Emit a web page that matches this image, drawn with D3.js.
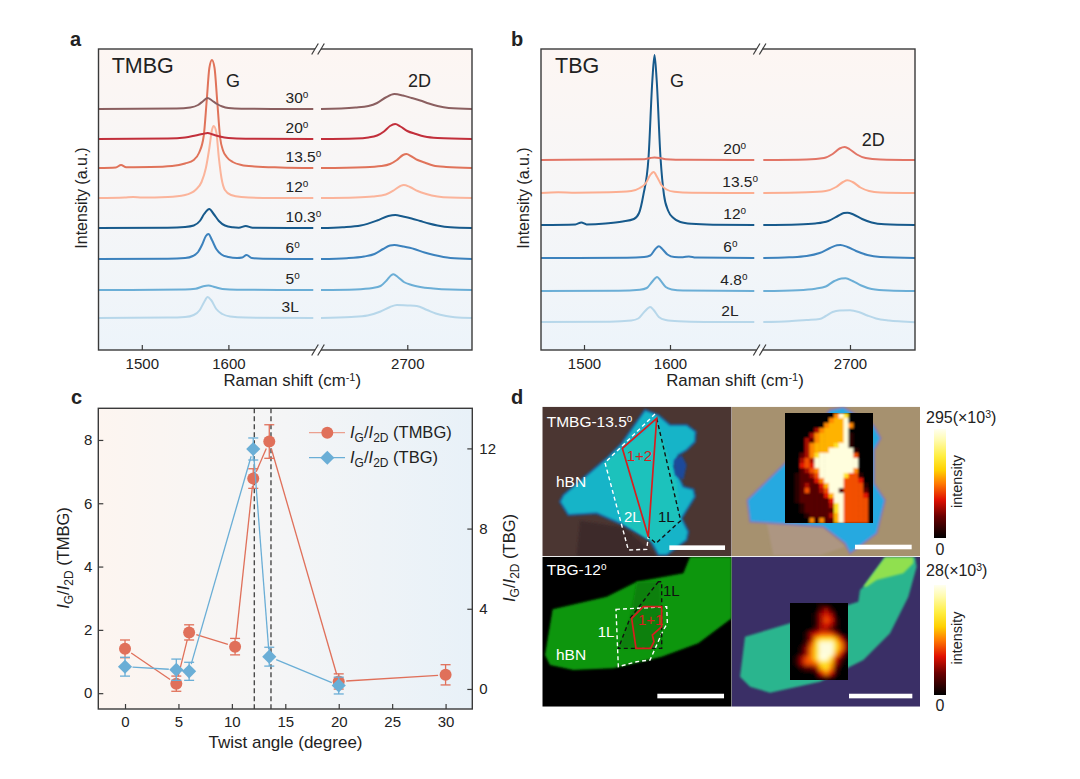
<!DOCTYPE html>
<html>
<head>
<meta charset="utf-8">
<script src="https://cdn.jsdelivr.net/npm/d3@7"></script>
<style>
  body { margin: 0; background: #fff; }
  text { font-family: "Liberation Sans", Arial, sans-serif; fill: #222; }
</style>
</head>
<body>
<svg id="chart" width="1080" height="779"></svg>
<script>
// spectra, pairs of [Raman shift, intensity above the baseline]
const tmbg30G = [[1450,0],[1540,.5],[1556,1.5],[1565,4],[1571,8],[1576,11],[1581,8.5],[1587,5],[1593,2.5],[1600,1],[1615,.2],[1698,0]];
const tmbg30D = [[2600,0],[2640,1.5],[2655,3],[2665,6],[2675,11.5],[2685,15],[2695,13.5],[2705,11],[2715,8.5],[2725,5.5],[2735,3],[2748,1],[2775,0]];
const tmbg20G = [[1450,0],[1530,.5],[1550,1.5],[1562,3.5],[1570,5],[1576,6],[1582,4.5],[1590,2.5],[1600,1],[1620,.3],[1698,0]];
const tmbg20D = [[2600,0],[2640,.5],[2655,1.5],[2665,3.5],[2673,7.5],[2680,13],[2686,15],[2692,12.5],[2700,8],[2710,5],[2720,2.5],[2735,1],[2775,0]];
const tmbg135G = [[1450,0],[1470,.5],[1476,3],[1482,.8],[1510,1],[1535,2],[1550,4.5],[1560,8],[1566,15],[1571.5,32],[1575,68],[1578,100],[1581,108],[1584,100],[1587,68],[1590.5,30],[1594,17],[1598,11],[1605,6],[1615,3],[1630,1.5],[1660,.5],[1698,0]];
const tmbg135D = [[2600,0],[2650,.8],[2670,2],[2680,4],[2688,8],[2695,13],[2699,14],[2705,11.5],[2712,8],[2720,5.5],[2730,2.5],[2745,1],[2775,0]];
const tmbg12G = [[1450,0],[1480,.5],[1490,1],[1500,.5],[1530,1],[1550,3],[1562,8],[1569,16],[1574,30],[1578,50],[1581,68],[1583,72],[1586,66],[1589,40],[1592,20],[1596,8],[1603,3],[1615,1],[1650,0],[1698,0]];
const tmbg12D = [[2600,0],[2640,.5],[2660,1.5],[2675,3.5],[2685,8],[2692,12],[2696,13],[2703,11],[2712,7],[2722,4],[2735,1.5],[2750,.4],[2775,0]];
const tmbg103G = [[1450,0],[1530,.3],[1550,1],[1560,2.5],[1567,7],[1572,14],[1578,19],[1583,14],[1589,7],[1596,2.5],[1605,.7],[1612,.3],[1620,2],[1628,.3],[1698,0]];
const tmbg103D = [[2600,0],[2625,.8],[2646,2.5],[2665,7.5],[2678,12],[2686,13],[2695,11.5],[2705,9.5],[2715,7],[2725,4.5],[2735,2.5],[2750,.7],[2775,0]];
const tmbg6G = [[1450,0],[1530,.3],[1550,1],[1559,3],[1565,7],[1570,15],[1574,23],[1577,25],[1581,19],[1586,10],[1592,4.5],[1600,2],[1610,1],[1616,1.5],[1621,4],[1627,1],[1640,.3],[1698,0]];
const tmbg6D = [[2600,0],[2630,.8],[2650,2.5],[2662,5],[2672,10],[2680,13.5],[2685,14],[2695,12.5],[2708,10],[2720,6.5],[2731,4],[2750,1],[2775,0]];
const tmbg5G = [[1450,0],[1550,.4],[1562,1.2],[1571,3.8],[1577,4.5],[1584,3],[1593,1],[1610,.2],[1698,0]];
const tmbg5D = [[2600,0],[2640,.6],[2660,2],[2669,4],[2676,9.5],[2681,14.5],[2684,15.7],[2689,13],[2696,8],[2705,5],[2715,3],[2730,1.5],[2750,.4],[2775,0]];
const tmbg3LG = [[1450,0],[1530,.4],[1550,1],[1560,3],[1567,8],[1572,16],[1576,21],[1580,18],[1586,9],[1593,4],[1602,1.5],[1620,.4],[1698,0]];
const tmbg3LD = [[2600,0],[2635,1],[2654,2.5],[2669,6.5],[2680,11],[2688,13],[2700,12.5],[2711,12],[2723,8],[2733,4.5],[2745,2],[2755,.7],[2775,0]];

const tbg20G = [[1450,0],[1520,.4],[1570,.8],[1577,2],[1582,2.5],[1588,2],[1595,.8],[1620,.2],[1698,0]];
const tbg20D = [[2600,0],[2650,.5],[2670,2],[2680,6],[2688,11.5],[2694,13],[2700,10.5],[2708,5.5],[2718,2],[2735,.5],[2775,0]];
const tbg135G = [[1450,0],[1470,.8],[1490,.3],[1530,.7],[1555,2],[1565,5],[1572,10],[1577,18],[1581,21],[1585,16],[1590,8],[1596,3.5],[1605,1.2],[1625,.3],[1698,0]];
const tbg135D = [[2600,0],[2650,.7],[2672,2],[2684,6],[2692,11],[2697,12.7],[2703,11],[2712,5.5],[2722,2],[2735,.6],[2775,0]];
const tbg12G = [[1450,0],[1490,.6],[1497,2.5],[1503,.6],[1525,1.5],[1545,3.5],[1558,6],[1564,12],[1569,30],[1575,67],[1579.5,145],[1582,170],[1584.5,145],[1589,67],[1593,30],[1598,14],[1604,7],[1612,3],[1625,1.2],[1650,.3],[1698,0]];
const tbg12D = [[2600,0],[2640,.5],[2660,1.5],[2675,4],[2687,9.5],[2693,12],[2697,12.3],[2704,10.5],[2714,6],[2725,2.5],[2740,.7],[2775,0]];
const tbg6G = [[1450,0],[1550,.3],[1570,1],[1577,2.5],[1583,9],[1587,11.7],[1591,9],[1597,3.5],[1605,1],[1615,.8],[1622,1.6],[1630,.5],[1698,0]];
const tbg6D = [[2600,0],[2630,.7],[2650,2],[2665,5],[2677,10],[2685,12.7],[2689,13],[2697,11],[2707,7],[2720,3],[2735,1],[2775,0]];
const tbg48G = [[1450,0],[1540,.3],[1565,1.2],[1573,3],[1579,9],[1585,14],[1589,10.5],[1595,4],[1602,1.5],[1615,.4],[1698,0]];
const tbg48D = [[2600,0],[2640,.8],[2660,2.3],[2672,4.5],[2682,10],[2690,12.5],[2695,12.7],[2703,10],[2713,5.5],[2725,2],[2745,.5],[2775,0]];
const tbg2LG = [[1450,0],[1530,.3],[1555,1.5],[1563,3.5],[1570,10],[1577,15],[1581,12],[1587,5],[1595,2],[1610,.7],[1640,.1],[1698,0]];
const tbg2LD = [[2600,0],[2630,.8],[2650,2],[2665,3],[2672,6],[2680,10],[2688,11.5],[2700,11.7],[2710,10],[2720,6.5],[2730,3.5],[2745,1.5],[2760,.5],[2775,-.3]];

const tmbgLabels = ["3L", "5", "6", "10.3", "12", "13.5", "20", "30"];
const tmbgOffsets = [32, 60, 91, 122, 152, 182, 211, 241];
const tmbgColors = ["#b7d7ea", "#6baed6", "#3c82bd", "#175a8c", "#fbb49b", "#e0735a", "#c22f3b", "#8b5f60"];
const tmbgG = [tmbg3LG, tmbg5G, tmbg6G, tmbg103G, tmbg12G, tmbg135G, tmbg20G, tmbg30G];
const tmbgD = [tmbg3LD, tmbg5D, tmbg6D, tmbg103D, tmbg12D, tmbg135D, tmbg20D, tmbg30D];

const tbgLabels = ["2L", "4.8", "6", "12", "13.5", "20"];
const tbgOffsets = [28, 59, 92, 125, 157, 190];
const tbgColors = ["#b7d7ea", "#6baed6", "#3c82bd", "#175a8c", "#fcae91", "#e27566"];
const tbgG = [tbg2LG, tbg48G, tbg6G, tbg12G, tbg135G, tbg20G];
const tbgD = [tbg2LD, tbg48D, tbg6D, tbg12D, tbg135D, tbg20D];

// ratio vs twist angle
const angleTMBG = [0, 4.8, 6, 10.3, 12, 13.5, 20, 30];
const ratioTMBG = [1.4, 0.3, 1.92, 1.47, 6.78, 7.95, 0.37, 0.58];
const errTMBG = [0.28, 0.24, 0.24, 0.26, 0.31, 0.53, 0.24, 0.32];
const angleTBG = [0, 4.8, 6, 12, 13.5, 20];
const ratioTBG = [1.11, 0.96, 0.88, 11.97, 1.61, 0.17];
const errTBG = [0.47, 0.53, 0.45, 0.55, 0.47, 0.42];
const dashAngles = [12.1, 13.66];

// heat maps, one digit per cell
const heatTMBG = [
  "000000000069800000","000000000677900000","000000006777960000","000000367777900000",
  "000003677777910000","000032677777910000","000036777789910000","000036777999991000",
  "000236899999995000","000353999999999000","000454999999999000","000235699999996000",
  "001223599999855100","001222469999555400","001232247999555510","001252235992555520",
  "001222224799555540","001222222499555550","000122222389555550","000122222289555550",
  "000012222379555550","000006162279555550"];
const heatTBG = [
  "000000100000","000000231000","000001343000","000001354100","000001343100","000002332000",
  "000134555300","000137888741","000258999863","001368999863","001368999741","013568998420",
  "013556887310","001223786200","000001464100","000000121000"];
const heatLevels = [0, .08, .16, .28, .36, .44, .52, .58, .7, .97];

// micrograph outlines, in the pixels of each tile's own picture
const flakeTL = [[345,30],[385,45],[420,75],[470,75],[497,95],[495,125],[470,150],[445,165],[432,200],[460,260],[490,268],[495,290],[455,355],[475,395],[470,420],[410,465],[385,465],[360,420],[280,375],[200,340],[115,345],[90,305],[100,285],[230,175],[275,130]];
const innerTL = [[225,190],[275,150],[350,90],[380,60],[440,250],[450,360],[375,430],[350,415],[280,370]];
const notchTL = [[432,180],[455,165],[470,195],[460,240],[435,225]];
const shadeTL = [[150,362],[280,382],[380,468],[140,468]];
const whiteTL = [[375,42],[225,188],[295,450],[350,448],[355,410]];
const blackTL = [[380,55],[452,362],[378,430],[355,410]];
const redTL = [[380,55],[277,145],[355,410]];
const barTL = [418, 585, 443];

const flakeBL = [[480,470],[605,470],[605,655],[505,730],[395,770],[250,805],[130,810],[60,795],[45,765],[68,628],[230,590],[320,545],[460,520]];
const darkBL = [[320,545],[390,545],[395,745],[265,745],[300,655]];
const whiteBL = [[258,628],[410,620],[412,670],[400,690],[360,780],[320,785],[265,800]];
const blackBL = [[385,545],[300,655],[265,745],[395,745],[395,545]];
const redBL = [[340,620],[395,620],[395,680],[367,705],[372,725],[362,745],[318,745],[305,655]];
const barBL = [382, 582, 888];

const flakeTR = [[300,30],[340,22],[430,75],[452,115],[432,150],[432,250],[465,300],[440,400],[360,460],[345,430],[280,380],[60,365],[52,300],[165,190]];
const shadeTR = [[110,368],[280,382],[345,440],[270,465],[130,465]];
const barTR = [375, 545, 441];
const flakeBR = [[400,560],[465,472],[555,472],[560,500],[535,590],[480,700],[400,780],[270,845],[120,878],[60,860],[30,830],[45,710],[180,670],[385,605],[390,570]];
const limeBR = [[400,560],[465,472],[550,472],[550,490],[520,520],[440,540],[410,560]];
const barBR = [357, 547, 888];

const svg = d3.select("#chart");
const defs = svg.append("defs");

function gradient(id, vertical, stops) {
  const g = defs.append("linearGradient").attr("id", id)
    .attr("x1", 0).attr("y1", 0)
    .attr("x2", vertical ? 0 : 1).attr("y2", vertical ? 1 : 0);
  stops.forEach(s => g.append("stop").attr("offset", s[0]).attr("stop-color", s[1]));
}
gradient("bgV", true, [[0, "#fdf6f3"], [0.5, "#f6f6f7"], [1, "#edf4fa"]]);
gradient("bgH", false, [[0, "#fdf5f0"], [0.5, "#f4f5f6"], [1, "#e8f1f8"]]);

const blur = (id, dev) => defs.append("filter").attr("id", id)
  .attr("x", "-10%").attr("y", "-10%").attr("width", "120%").attr("height", "120%")
  .append("feGaussianBlur").attr("stdDeviation", dev);
blur("soft", 0.8);
blur("heatA", 1.1);
blur("heatB", 2.2);

// small helper for text with sub/superscripts
function rich(sel, parts) {
  let shift = 0;
  parts.forEach(p => {
    const t = sel.append("tspan").text(p.t);
    const want = p.dy || 0;
    if (want !== shift) t.attr("dy", want - shift);
    shift = want;
    if (p.size) t.attr("font-size", p.size);
    if (p.italic) t.attr("font-style", "italic");
  });
}
const deg = s => s.includes("L") ? [{ t: s }] : [{ t: s }, { t: "o", dy: -5, size: 10 }];

function label(x, y, txt, size, extra) {
  const t = svg.append("text").attr("x", x).attr("y", y).attr("font-size", size).text(txt);
  if (extra) t.attr("font-weight", extra);
  return t;
}

// panels a and b share everything but the scales and spectra
function spectra(opt) {
  const xL = d3.scaleLinear().domain([1450, 1700]).range(opt.rangeL);
  const xR = d3.scaleLinear().domain([2600, 2775]).range(opt.rangeR);
  const y = d3.scaleLinear().domain([0, 301]).range([350, 49]);
  const left = opt.rangeL[0], right = opt.rangeR[1];

  svg.append("rect").attr("x", left).attr("y", y(301)).attr("width", right - left)
    .attr("height", y(0) - y(301)).attr("fill", "url(#bgV)");

  const lineG = d3.line().x(d => xL(d.x)).y(d => y(d.y)).curve(d3.curveMonotoneX);
  const lineD = d3.line().x(d => xR(d.x)).y(d => y(d.y)).curve(d3.curveMonotoneX);

  opt.labels.forEach((name, i) => {
    const g = svg.append("g").attr("fill", "none").attr("stroke", opt.colors[i])
      .attr("stroke-width", 2).attr("stroke-linejoin", "round");
    g.append("path").attr("d", lineG(opt.g[i].map(p => ({ x: p[0], y: p[1] + opt.offsets[i] }))));
    g.append("path").attr("d", lineD(opt.d[i].map(p => ({ x: p[0], y: p[1] + opt.offsets[i] }))));
    const t = svg.append("text").attr("font-size", 15.5)
      .attr("x", xL(opt.labelShift) - opt.labelNudge[i]).attr("y", y(opt.offsets[i]) - 6);
    rich(t, deg(name));
  });

  svg.append("rect").attr("x", left).attr("y", y(301)).attr("width", right - left)
    .attr("height", y(0) - y(301)).attr("fill", "none").attr("stroke", "#3a3a3a").attr("stroke-width", 1.4);

  const gL = svg.append("g").attr("transform", `translate(0,${y(0)})`)
    .call(d3.axisBottom(xL).tickValues([1500, 1600]).tickFormat(d3.format("d")).tickSizeInner(-5).tickSizeOuter(0).tickPadding(8));
  const gR = svg.append("g").attr("transform", `translate(0,${y(0)})`)
    .call(d3.axisBottom(xR).tickValues([2700]).tickFormat(d3.format("d")).tickSizeInner(-5).tickSizeOuter(0).tickPadding(8));
  [gL, gR].forEach(g => {
    g.select(".domain").remove();
    g.selectAll("line").attr("stroke", "#3a3a3a").attr("stroke-width", 1.2);
    g.selectAll("text").attr("font-size", 15).attr("font-family", null).attr("fill", "#222");
  });

  // axis break marks
  const bx = (opt.rangeL[1] + opt.rangeR[0]) / 2;
  [y(301), y(0)].forEach(by => {
    svg.append("rect").attr("x", bx - 3).attr("y", by - 2).attr("width", 6).attr("height", 4).attr("fill", "#fff");
    [-3, 3].forEach(dx => svg.append("line")
      .attr("x1", bx + dx - 3.3).attr("y1", by + 5.5).attr("x2", bx + dx + 3.3).attr("y2", by - 5.5)
      .attr("stroke", "#3a3a3a").attr("stroke-width", 1.2));
  });

  const xt = svg.append("text").attr("x", (left + right) / 2 + 7).attr("y", 386).attr("font-size", 16.8).attr("text-anchor", "middle");
  rich(xt, [{ t: "Raman shift (cm" }, { t: "-1", dy: -5, size: 11 }, { t: ")" }]);
  svg.append("text").attr("transform", `translate(${left - 12},198) rotate(-90)`)
    .attr("font-size", 16).attr("text-anchor", "middle").text("Intensity (a.u.)");
}

spectra({
  rangeL: [98.5, 315], rangeR: [321, 472],
  labels: tmbgLabels, offsets: tmbgOffsets, colors: tmbgColors, g: tmbgG, d: tmbgD,
  labelShift: 1666, labelNudge: [4, 0, 0, 0, 0, 0, 0, 0]
});
spectra({
  rangeL: [541, 756], rangeR: [763.3, 915],
  labels: tbgLabels, offsets: tbgOffsets, colors: tbgColors, g: tbgG, d: tbgD,
  labelShift: 1662, labelNudge: [2, 3, 0, 0, 1, 0]
});

label(111.7, 72.7, "TMBG", 21.5);
label(226, 87, "G", 18);
label(408, 87, "2D", 18);
label(555, 73, "TBG", 21.5);
label(670, 87, "G", 18);
label(861.7, 146, "2D", 18);
label(70, 46, "a", 20, "bold");
label(511, 46, "b", 20, "bold");
label(71, 404, "c", 20, "bold");
label(511, 404, "d", 20, "bold");

// panel c
const xAngle = d3.scaleLinear().domain([-2.5, 32.5]).range([98.3, 472.3]);
const yTMBG = d3.scaleLinear().domain([-0.5, 9]).range([709, 408.3]);
const yTBG = d3.scaleLinear().domain([-1, 14]).range([709, 408.3]);
const red = "#e0705a", blue = "#6aaed6";

svg.append("rect").attr("x", 98.3).attr("y", 408.3).attr("width", 374).attr("height", 300.7).attr("fill", "url(#bgH)");

dashAngles.forEach(a => svg.append("line")
  .attr("x1", xAngle(a)).attr("x2", xAngle(a)).attr("y1", 408.3).attr("y2", 709)
  .attr("stroke", "#4a4a4a").attr("stroke-width", 1.4).attr("stroke-dasharray", "5,3"));

// Origin style lines stop short of the symbols
function series(xs, ys, errs, yScale, color, symbol) {
  const pts = xs.map((x, i) => [xAngle(x), yScale(ys[i])]);
  d3.pairs(pts).forEach(([a, b]) => {
    const dx = b[0] - a[0], dy = b[1] - a[1], len = Math.hypot(dx, dy), gap = 7.5 / len;
    svg.append("line").attr("stroke", color).attr("stroke-width", 1.3)
      .attr("x1", a[0] + dx * gap).attr("y1", a[1] + dy * gap)
      .attr("x2", b[0] - dx * gap).attr("y2", b[1] - dy * gap);
  });
  const g = svg.append("g").attr("stroke", color).attr("stroke-width", 1.3);
  xs.forEach((x, i) => {
    const cx = xAngle(x), hi = yScale(ys[i] + errs[i]), lo = yScale(ys[i] - errs[i]);
    g.append("line").attr("x1", cx).attr("x2", cx).attr("y1", hi).attr("y2", lo);
    [hi, lo].forEach(v => g.append("line").attr("x1", cx - 5).attr("x2", cx + 5).attr("y1", v).attr("y2", v));
  });
  pts.forEach(p => symbol(p[0], p[1]));
}
const circle = (x, y) => svg.append("circle").attr("cx", x).attr("cy", y).attr("r", 6).attr("fill", red);
const diamondPath = d3.symbol(d3.symbolSquare, 100)();
const diamond = (x, y) => svg.append("path").attr("d", diamondPath)
  .attr("transform", `translate(${x},${y}) rotate(45)`).attr("fill", blue);

series(angleTMBG, ratioTMBG, errTMBG, yTMBG, red, circle);
series(angleTBG, ratioTBG, errTBG, yTBG, blue, diamond);

svg.append("rect").attr("x", 98.3).attr("y", 408.3).attr("width", 374).attr("height", 300.7)
  .attr("fill", "none").attr("stroke", "#3a3a3a").attr("stroke-width", 1.4);

const axC = [
  svg.append("g").attr("transform", "translate(0,709)")
    .call(d3.axisBottom(xAngle).tickValues(d3.range(0, 31, 5)).tickSizeInner(-5).tickSizeOuter(0).tickPadding(7)),
  svg.append("g").attr("transform", "translate(98.3,0)")
    .call(d3.axisLeft(yTMBG).tickValues([0, 2, 4, 6, 8]).tickSizeInner(-5).tickSizeOuter(0).tickPadding(6)),
  svg.append("g").attr("transform", "translate(472.3,0)")
    .call(d3.axisRight(yTBG).tickValues([0, 4, 8, 12]).tickSizeInner(-5).tickSizeOuter(0).tickPadding(7))
];
axC.forEach(g => {
  g.select(".domain").remove();
  g.selectAll("line").attr("stroke", "#3a3a3a").attr("stroke-width", 1.2);
  g.selectAll("text").attr("font-size", 15).attr("font-family", null).attr("fill", "#222");
});

svg.append("text").attr("x", 285.5).attr("y", 747.7).attr("font-size", 17).attr("text-anchor", "middle").text("Twist angle (degree)");

const ratioParts = tail => [
  { t: "I", italic: true }, { t: "G", dy: 4, size: 12 }, { t: "/" },
  { t: "I", italic: true }, { t: "2D", dy: 4, size: 12 }, { t: " " + tail }
];
rich(svg.append("text").attr("font-size", 16.5).attr("text-anchor", "middle")
  .attr("transform", "translate(69,558) rotate(-90)"), ratioParts("(TMBG)"));
rich(svg.append("text").attr("font-size", 16.5).attr("text-anchor", "middle")
  .attr("transform", "translate(515,558) rotate(-90)"), ratioParts("(TBG)"));

// legend
[[red, circle, "(TMBG)", 432.7, "#eba08f"], [blue, diamond, "(TBG)", 457.7, blue]].forEach(([c, sym, tail, ly, lc]) => {
  svg.append("line").attr("x1", 309).attr("x2", 345).attr("y1", ly).attr("y2", ly).attr("stroke", lc).attr("stroke-width", 1.3);
  sym(327.3, ly);
  rich(svg.append("text").attr("x", 350).attr("y", ly + 5).attr("font-size", 16.5), ratioParts(tail));
});

// panel d
function tile(domX, domY, rangeX, rangeY, id, bg) {
  const x = d3.scaleLinear().domain(domX).range(rangeX);
  const y = d3.scaleLinear().domain(domY).range(rangeY);
  defs.append("clipPath").attr("id", id).append("rect")
    .attr("x", rangeX[0]).attr("y", rangeY[0])
    .attr("width", rangeX[1] - rangeX[0]).attr("height", rangeY[1] - rangeY[0]);
  const g = svg.append("g").attr("clip-path", `url(#${id})`);
  g.append("rect").attr("x", rangeX[0]).attr("y", rangeY[0])
    .attr("width", rangeX[1] - rangeX[0]).attr("height", rangeY[1] - rangeY[0]).attr("fill", bg);
  const path = d3.line().x(d => x(d[0])).y(d => y(d[1]));
  const poly = (pts, fill, stroke, w, dash, closed = true) => g.append("path")
    .attr("d", path(pts) + (closed ? "Z" : ""))
    .attr("fill", fill).attr("stroke", stroke || "none").attr("stroke-width", w || 0)
    .attr("stroke-dasharray", dash || null);
  const bar = b => g.append("rect").attr("x", x(b[0])).attr("width", x(b[1]) - x(b[0]))
    .attr("y", y(b[2]) - 2.3).attr("height", 4.6).attr("fill", "#fff");
  return { g, x, y, poly, bar };
}

const hot = d3.scaleLinear()
  .domain([0, .2, .35, .5, .62, .75, .9, 1])
  .range(["#000000", "#6b0000", "#e01000", "#ff7a00", "#ffd000", "#ffee40", "#fffbb0", "#fffff0"]);

function heatmap(rows, rect, blurId, clipId) {
  const x = d3.scaleBand().domain(d3.range(rows[0].length)).range([rect[0], rect[1]]);
  const y = d3.scaleBand().domain(d3.range(rows.length)).range([rect[2], rect[3]]);
  defs.append("clipPath").attr("id", clipId).append("rect")
    .attr("x", rect[0]).attr("y", rect[2]).attr("width", rect[1] - rect[0]).attr("height", rect[3] - rect[2]);
  const outer = svg.append("g").attr("clip-path", `url(#${clipId})`);
  outer.append("rect").attr("x", rect[0]).attr("y", rect[2])
    .attr("width", rect[1] - rect[0]).attr("height", rect[3] - rect[2]).attr("fill", "#000");
  outer.append("g").attr("filter", `url(#${blurId})`)
    .selectAll("rect").data(rows.flatMap((r, j) => [...r].map((v, i) => ({ i, j, v: +v }))))
    .join("rect")
    .attr("x", d => x(d.i)).attr("y", d => y(d.j))
    .attr("width", x.bandwidth() + .5).attr("height", y.bandwidth() + .5)
    .attr("fill", d => hot(heatLevels[d.v]));
}

const tl = tile([37, 605], [20, 468], [542.3, 731.7], [406.7, 556], "clipTL", "#4b3632");
tl.poly(shadeTL, "#3e2a2c").attr("filter", "url(#soft)");
tl.poly(flakeTL, "#14b4c8", "#1d5fa0", 2).attr("filter", "url(#soft)");
tl.poly(innerTL, "#1fc2bc").attr("filter", "url(#soft)");
tl.poly(notchTL, "#1a4a9a").attr("filter", "url(#soft)");
tl.poly(whiteTL, "none", "#fff", 1.4, "4,3", false);
tl.poly(blackTL, "none", "#111", 1.4, "4,3", false);
tl.poly(redTL, "none", "#d81e1e", 1.7);
tl.bar(barTL);

const bl = tile([37, 605], [470, 920], [542.3, 731.7], [556.7, 706.7], "clipBL", "#000");
bl.poly(flakeBL, "#0a960a").attr("filter", "url(#soft)");
bl.poly(darkBL, "#0a800a").attr("filter", "url(#soft)");
bl.poly(whiteBL, "none", "#fff", 1.4, "4,3");
bl.poly(blackBL, "none", "#111", 1.4, "4,3");
bl.poly(redBL, "none", "#d81e1e", 1.7);
bl.bar(barBL);

const tr = tile([5, 570], [20, 468], [731.7, 920], [406.7, 556], "clipTR", "#a6916f");
tr.poly(shadeTR, "#ad9682").attr("filter", "url(#soft)");
tr.poly(flakeTR, "#27a9e0", "#8870c0", 1.5).attr("filter", "url(#soft)");
tr.bar(barTR);

const br = tile([5, 570], [470, 920], [731.7, 920], [556.7, 706.7], "clipBR", "#3a2f66");
br.poly(flakeBR, "#2cb58e").attr("filter", "url(#soft)");
br.poly(limeBR, "#90e050").attr("filter", "url(#soft)");
br.bar(barBR);

heatmap(heatTMBG, [785, 873, 413, 523], "heatA", "clipHeatA");
heatmap(heatTBG, [790, 848, 603, 680], "heatB", "clipHeatB");

const tileText = (x, y, txt, size, color) => svg.append("text").attr("x", x).attr("y", y)
  .attr("font-size", size).style("fill", color).text(txt);
rich(svg.append("text").attr("x", 546.7).attr("y", 427).attr("font-size", 15.5).style("fill", "#fff"),
  [{ t: "TMBG-13.5" }, { t: "o", dy: -5, size: 10 }]);
rich(svg.append("text").attr("x", 546.7).attr("y", 575).attr("font-size", 15.5).style("fill", "#fff"),
  [{ t: "TBG-12" }, { t: "o", dy: -5, size: 10 }]);
tileText(556, 486.7, "hBN", 15.5, "#fff");
tileText(556, 660, "hBN", 15.5, "#fff");
tileText(626.7, 461, "1+2", 15, "#d81e1e");
tileText(638, 625, "1+1", 15, "#d81e1e");
tileText(624, 521.7, "2L", 15, "#fff");
tileText(658, 521.7, "1L", 15, "#111");
tileText(663, 595.7, "1L", 15, "#111");
tileText(597.7, 636.7, "1L", 15, "#fff");

// colour bars
defs.append("linearGradient").attr("id", "hotBar").attr("x1", 0).attr("y1", 1).attr("x2", 0).attr("y2", 0)
  .selectAll("stop").data(hot.domain()).join("stop")
  .attr("offset", d => d).attr("stop-color", d => hot(d));

function colorbar(y0, y1, top, topY, zeroY) {
  svg.append("rect").attr("x", 934).attr("width", 12).attr("y", y0).attr("height", y1 - y0).attr("fill", "url(#hotBar)");
  rich(svg.append("text").attr("x", 926).attr("y", topY).attr("font-size", 16),
    [{ t: top + "(×10" }, { t: "3", dy: -5, size: 10.5 }, { t: ")" }]);
  svg.append("text").attr("x", 940).attr("y", zeroY).attr("font-size", 16).attr("text-anchor", "middle").text("0");
  svg.append("text").attr("transform", `translate(962,${(y0 + y1) / 2 - 2}) rotate(-90)`)
    .attr("font-size", 14.5).attr("text-anchor", "middle").text("intensity");
}
colorbar(429, 538, "295", 423, 555);
colorbar(585, 695, "28", 576, 711);
</script>
</body>
</html>
